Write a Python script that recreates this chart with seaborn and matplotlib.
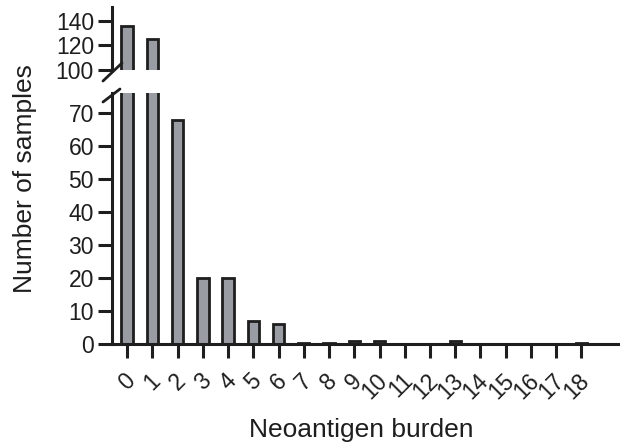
import matplotlib
matplotlib.use('Agg')
import matplotlib.pyplot as plt
from matplotlib.lines import Line2D
from matplotlib.transforms import ScaledTranslation, blended_transform_factory
import seaborn as sns
import pandas as pd

# data
burden = list(range(19))
samples = [136, 125, 68, 20, 20, 7, 6, 0.4, 0.4, 1, 1, 0, 0, 1, 0, 0, 0, 0, 0.4]
low_ticks = [0, 10, 20, 30, 40, 50, 60, 70]
high_ticks = [100, 120, 140]

BAR = '#9a9ca4'
INK = '#1e1e1e'
W, H = 621, 445

sns.set_theme(style='ticks')
plt.rcParams['font.family'] = ['Liberation Sans', 'DejaVu Sans']

df = pd.DataFrame({'burden': burden, 'samples': samples})

fig = plt.figure(figsize=(W / 100, H / 100), dpi=100)


def px_box(left, top, right, bottom):
    return [left / W, 1 - bottom / H, (right - left) / W, (bottom - top) / H]


ax_lo = fig.add_axes(px_box(112, 93, 618, 344))
ax_hi = fig.add_axes(px_box(112, 7, 618, 70))

for ax in (ax_lo, ax_hi):
    sns.barplot(data=df, x='burden', y='samples', color=BAR, edgecolor=INK,
                linewidth=2.0, width=0.45, saturation=1, ax=ax)
    ax.set_xlim(-0.6, 19.45)
    ax.set_xlabel('')
    ax.set_ylabel('')
    sns.despine(ax=ax)
    for s in ax.spines.values():
        s.set_linewidth(2.2)
        s.set_color(INK)
    ax.tick_params(axis='y', length=10, width=2.2, color=INK, pad=3,
                   labelsize=16.5, labelcolor=INK)

ax_lo.set_ylim(0, 76.1)
ax_lo.set_yticks(low_ticks)
ax_lo.set_xticks(burden)
ax_lo.tick_params(axis='x', length=10, width=2.2, color=INK, labelbottom=False)

# rotated category labels, last glyph sitting under its tick
lab_tr = (blended_transform_factory(ax_lo.transData, ax_lo.transAxes)
          + ScaledTranslation(0.045, -0.33, fig.dpi_scale_trans))
for b in burden:
    ax_lo.text(b, 0, str(b), transform=lab_tr, rotation=45, ha='right',
               va='center', rotation_mode='anchor', fontsize=16.5, color=INK,
               clip_on=False)

ax_hi.set_ylim(100, 151.4)
ax_hi.set_yticks(high_ticks)
ax_hi.spines['bottom'].set_visible(False)
ax_hi.tick_params(axis='x', bottom=False, labelbottom=False)

# break marks on the y axis
for (x0, y0, x1, y1) in [(103, 81, 122, 63), (103, 102, 120, 89)]:
    fig.add_artist(Line2D([x0 / W, x1 / W], [1 - y0 / H, 1 - y1 / H],
                          transform=fig.transFigure, color=INK, lw=2.0))

fig.text(25 / W, 1 - 179 / H, 'Number of samples', rotation=90, ha='center',
         va='center', fontsize=19, color=INK)
fig.text(361 / W, 1 - 430 / H, 'Neoantigen burden', ha='center', va='center',
         fontsize=19, color=INK)

fig.savefig('out.png', dpi=100)
